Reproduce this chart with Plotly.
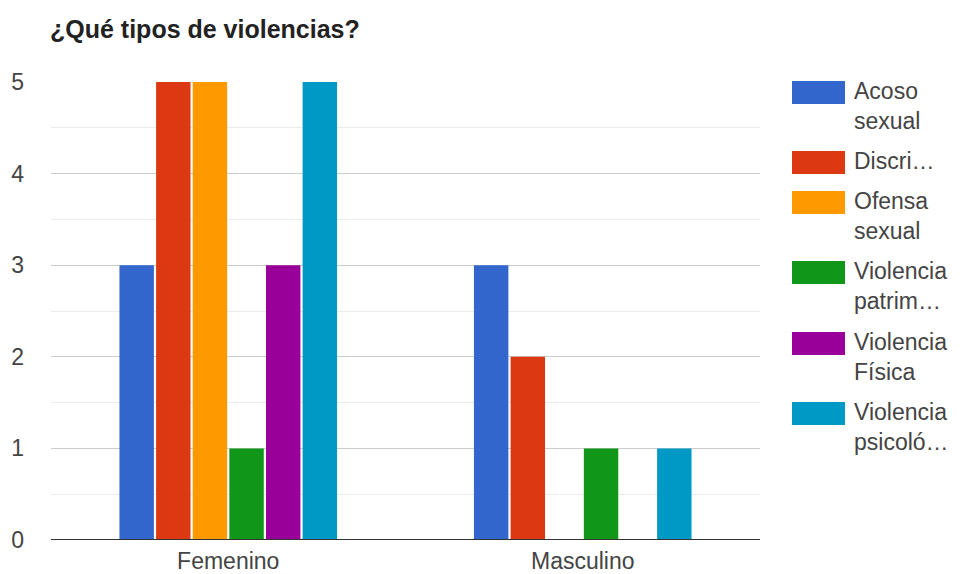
import plotly.graph_objects as go

title = "¿Qué tipos de violencias?"
categories = ["Femenino", "Masculino"]
series_names = ["Acoso sexual", "Discriminación", "Ofensa sexual",
                "Violencia patrimonial", "Violencia Física", "Violencia psicológica"]
legend_labels = ["Acoso<br>sexual", "Discri…", "Ofensa<br>sexual",
                 "Violencia<br>patrim…", "Violencia<br>Física", "Violencia<br>psicoló…"]
values = [
    [3, 3],
    [5, 2],
    [5, 0],
    [1, 1],
    [3, 0],
    [5, 1],
]
colors = ["#3366cc", "#dc3912", "#ff9900", "#109618", "#990099", "#0099c6"]
y_ticks = [0, 1, 2, 3, 4, 5]

FONT = "Liberation Sans, Arial, sans-serif"
W, H = 962, 574
L, R, T, B = 51, 202, 82, 34
PW, PH = W - L - R, H - T - B


def px(x):
    return (x - L) / PW


def py(y):
    return 1 - (y - T) / PH


fig = go.Figure()
for name, vals, col in zip(series_names, values, colors):
    fig.add_trace(go.Bar(x=categories, y=vals, name=name, marker_color=col,
                         marker_line_width=0))

fig.update_layout(
    width=W, height=H,
    margin=dict(l=L, r=R, t=T, b=B),
    paper_bgcolor="white", plot_bgcolor="white",
    barmode="group", bargap=0.38, bargroupgap=0.06,
    showlegend=False,
    font=dict(family=FONT, color="#444444", size=23),
    title=dict(text="<b>" + title + "</b>", x=50 / W, xanchor="left",
               y=1 - 29 / H, yanchor="middle",
               font=dict(family=FONT, size=25, color="#222222")),
)
fig.update_yaxes(range=[0, 5], tickvals=y_ticks, showgrid=True, gridcolor="#cccccc",
                 gridwidth=1, zeroline=False, showline=False, automargin=False,
                 ticklabelstandoff=26, tickfont=dict(size=23, color="#444444"),
                 minor=dict(dtick=0.5, showgrid=True, gridcolor="#ebebeb", gridwidth=1))
fig.update_xaxes(showline=False, showgrid=False, automargin=False,
                 tickfont=dict(size=23, color="#444444"), ticklabelstandoff=5)
# baseline
fig.add_shape(type="line", xref="paper", yref="y", x0=0, x1=1, y0=0, y1=0,
              line=dict(color="#333333", width=2))

# custom legend (Google Charts style)
leg_top = [81, 151, 191, 261, 332, 402]
for lab, col, top in zip(legend_labels, colors, leg_top):
    fig.add_shape(type="rect", xref="paper", yref="paper",
                  x0=px(792), x1=px(845),
                  y0=py(top), y1=py(top + 23),
                  fillcolor=col, line=dict(width=0))
    fig.add_annotation(xref="paper", yref="paper", x=px(852), y=py(top - 5),
                       xanchor="left", yanchor="top", align="left",
                       text=lab, showarrow=False,
                       font=dict(family=FONT, size=23, color="#444444"))

fig.write_html("out.html", config={"displayModeBar": False},
               post_script="document.body.style.margin='0';")
